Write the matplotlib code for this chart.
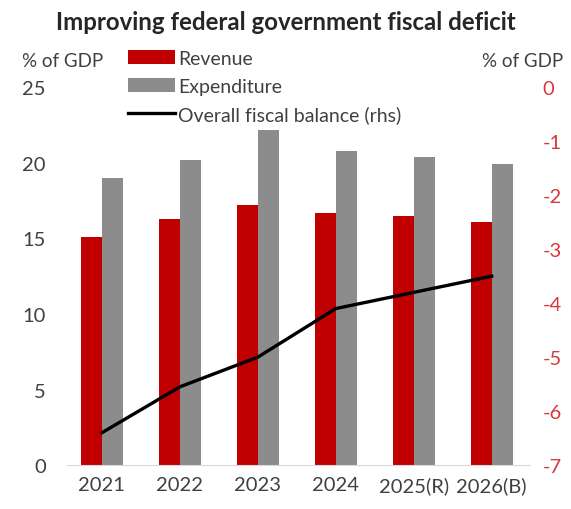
import numpy as np
from matplotlib import pyplot as plt

plt.rcParams['font.family'] = ['Lato', 'DejaVu Sans']

years = ['2021', '2022', '2023', '2024', '2025(R)', '2026(B)']
revenue = [15.1, 16.3, 17.2, 16.7, 16.5, 16.1]
expenditure = [19.0, 20.2, 22.2, 20.8, 20.4, 19.9]
balance = [-6.4, -5.55, -5.0, -4.1, -3.8, -3.5]

x = np.arange(len(years))
w = 0.27

fig = plt.figure(figsize=(5.71, 5.1), dpi=100)
ax = fig.add_axes([0.117, 0.086, 0.811, 0.741])
ax2 = ax.twinx()

b1 = ax.bar(x - w/2, revenue, w, color='#c00000', label='Revenue')
b2 = ax.bar(x + w/2, expenditure, w, color='#8c8c8c', label='Expenditure')
l1, = ax2.plot(x, balance, color='black', lw=2.4, label='Overall fiscal balance (rhs)')

ax.set_xlim(-0.45, 5.49)
ax.set_ylim(0, 25)
ax2.set_ylim(-7, 0)
ax.set_yticks([0, 5, 10, 15, 20, 25])
ax2.set_yticks(range(-7, 1))
ax.set_xticks(x)
ax.set_xticklabels(years)

for a in (ax, ax2):
    for s in a.spines.values():
        s.set_visible(False)
    a.tick_params(length=0, labelsize=14.5)
ax.spines['bottom'].set_visible(True)
ax.spines['bottom'].set_color('#d9d9d9')
ax.tick_params(axis='y', pad=15, colors='#404040')
ax.tick_params(axis='x', pad=8, colors='#404040')
ax2.tick_params(axis='y', pad=9, colors='#d8383c')
ax2.set_yticklabels([str(v) for v in range(-7, 1)])

fig.text(0.5, 0.955, 'Improving federal government fiscal deficit', ha='center', va='center',
         fontsize=17.3, fontweight='bold', color='#262626')
fig.text(0.038, 0.879, '% of GDP', ha='left', va='center', fontsize=13.5, color='#404040')
fig.text(0.986, 0.879, '% of GDP', ha='right', va='center', fontsize=13.5, color='#404040')

leg = fig.legend([b1, b2, l1], ['Revenue', 'Expenditure', 'Overall fiscal balance (rhs)'],
                 loc='upper left', bbox_to_anchor=(0.224, 0.9), frameon=False,
                 fontsize=14, handlelength=2.4, handletextpad=0.2, labelspacing=0.55,
                 borderaxespad=0, borderpad=0)
for t in leg.get_texts():
    t.set_color('#404040')

fig.savefig('out.png')
